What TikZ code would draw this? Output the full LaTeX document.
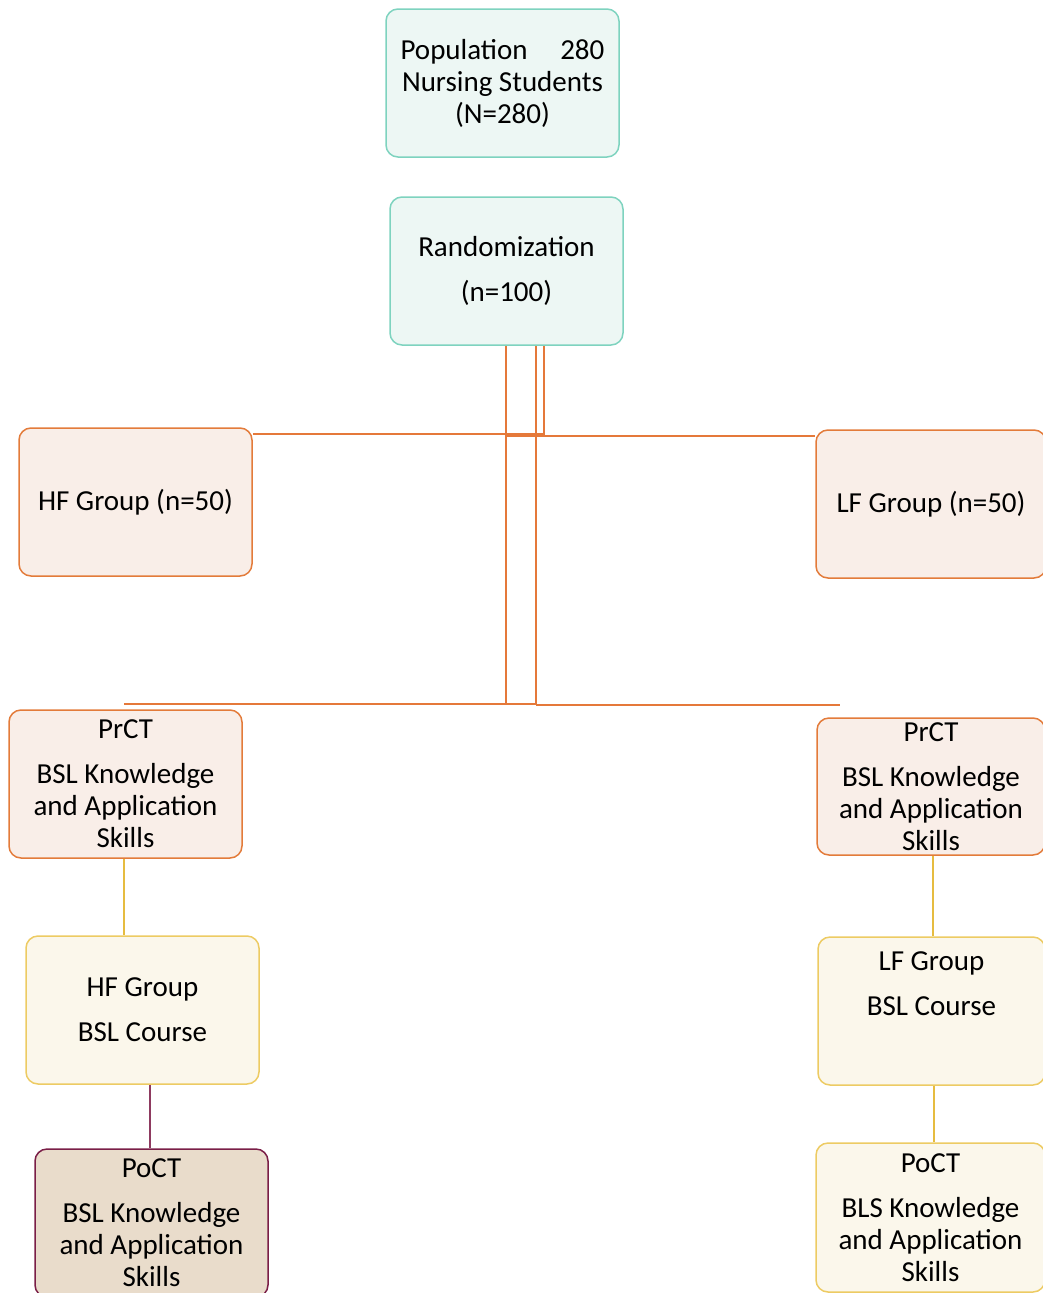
\documentclass[tikz,border=0pt]{standalone}
\usepackage{fontspec}
\setmainfont{Carlito}
\definecolor{tealfill}{HTML}{EDF7F4}
\definecolor{tealdraw}{HTML}{7ED3BF}
\definecolor{orfill}{HTML}{F9EEE8}
\definecolor{ordraw}{HTML}{E37B3A}
\definecolor{yefill}{HTML}{FBF7EB}
\definecolor{yedraw}{HTML}{EDCB63}
\definecolor{brfill}{HTML}{E9DCCB}
\definecolor{brdraw}{HTML}{7A1E47}
\definecolor{orline}{HTML}{E5793A}
\definecolor{yeline}{HTML}{E6BC40}
\definecolor{mrline}{HTML}{8E3A60}
\tikzset{
  box/.style={draw, line width=1.5pt, rounded corners=12pt, minimum width=233pt, minimum height=148pt,
    inner sep=0pt, align=center, font=\fontsize{29}{32}\selectfont},
  tealbox/.style={box, draw=tealdraw, fill=tealfill},
  orbox/.style={box, draw=ordraw, fill=orfill},
  yebox/.style={box, draw=yedraw, fill=yefill},
  brbox/.style={box, draw=brdraw, fill=brfill},
  orconn/.style={draw=orline, line width=1.4pt},
  yeconn/.style={draw=yeline, line width=1.6pt},
  mrconn/.style={draw=mrline, line width=1.6pt}
}
\begin{document}
\begin{tikzpicture}[x=1pt,y=-1pt]
\useasboundingbox (0,0) rectangle (1043,1293);
% boxes
\node[tealbox] (pop) at (502.5,83) {Population\hspace{0.9em} 280\\Nursing Students\\(N=280)};
\node[tealbox] (rand) at (506.5,271) {Randomization\\[13pt](n=100)};
\node[orbox] (hf) at (135.5,502) {HF Group (n=50)};
\node[orbox, minimum width=230pt] (lf) at (931,504) {LF Group (n=50)};
\node[orbox] (prl) at (125.5,784) {PrCT\\[13pt]BSL Knowledge\\and Application\\Skills};
\node[orbox, minimum width=228pt, minimum height=137pt] (prr) at (931,786.5) {PrCT\\[13pt]BSL Knowledge\\and Application\\Skills};
\node[yebox] (hfc) at (142.5,1010) {HF Group\\[13pt]BSL Course};
\node[yebox, minimum width=227pt] (lfc) at (931.5,1011) {LF Group\\[13pt]BSL Course\\[13pt]\strut};
\node[brbox] (pol) at (151.5,1223) {PoCT\\[13pt]BSL Knowledge\\and Application\\Skills};
\node[yebox, minimum width=229pt, minimum height=149pt] (por) at (930.5,1217.5) {PoCT\\[13pt]BLS Knowledge\\and Application\\Skills};
% connector coordinates
\coordinate (c1) at (544,434);
\coordinate (c2) at (506,436);
\coordinate (c3) at (506,704);
\coordinate (c4) at (536,704);
\coordinate (c5) at (124,704);
\coordinate (c6) at (840,705);
\coordinate (x1) at (124,0);
\coordinate (x2) at (933,0);
\coordinate (x3) at (150,0);
\coordinate (x4) at (934,0);
% orange connectors
\draw[orconn] (hf.east |- c1) -- (c1) -- (c1 |- rand.south);
\draw[orconn] (c2) -- (lf.west |- c2);
\draw[orconn] (c3 |- rand.south) -- (c3) -- (c4) -- (c4 |- rand.south);
\draw[orconn] (c5) -- (c3);
\draw[orconn] (c4 |- c6) -- (c6);
% lower connectors
\draw[yeconn] (x1 |- prl.south) -- (x1 |- hfc.north);
\draw[yeconn] (x2 |- prr.south) -- (x2 |- lfc.north);
\draw[mrconn] (x3 |- hfc.south) -- (x3 |- pol.north);
\draw[yeconn] (x4 |- lfc.south) -- (x4 |- por.north);
\end{tikzpicture}
\end{document}
